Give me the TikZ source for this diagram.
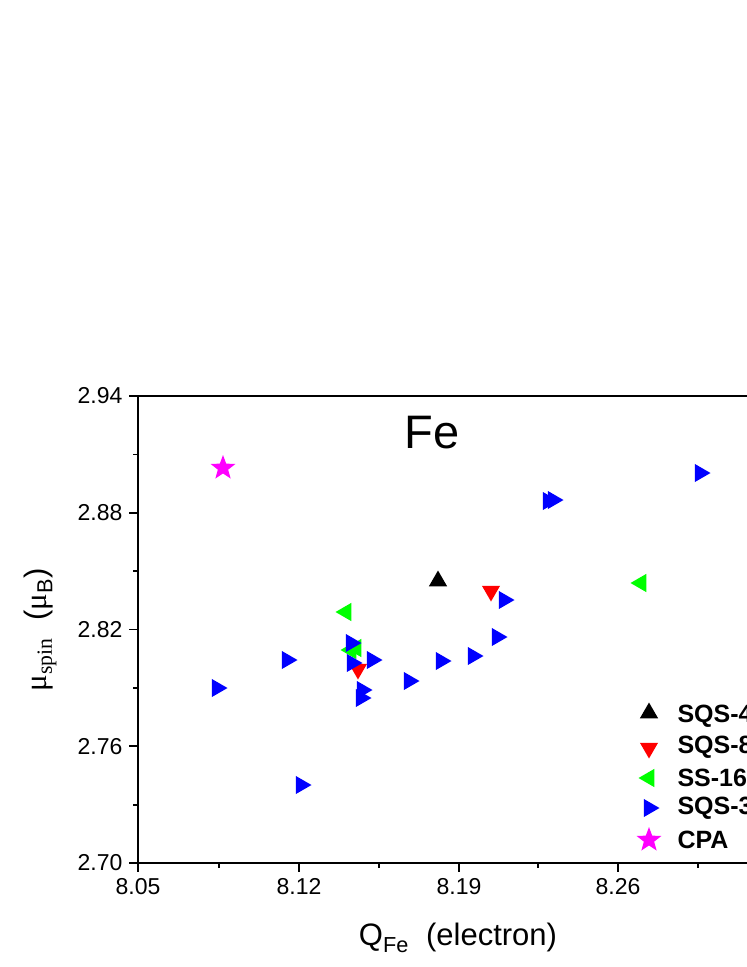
\documentclass[tikz,border=0pt]{standalone}
\usepackage{fontspec}
\setmainfont{Liberation Sans}
\newfontfamily\serifgr{Liberation Serif}
\usetikzlibrary{shapes.geometric}
\definecolor{mag}{RGB}{255,0,255}
\definecolor{grn}{RGB}{0,255,0}
\definecolor{blu}{RGB}{0,0,255}
\definecolor{rd}{RGB}{255,0,0}
\begin{document}
\begin{tikzpicture}[x=1pt,y=-1pt,
  mk/.style={regular polygon,regular polygon sides=3,inner sep=0pt,minimum size=21pt,draw=none},
  up/.style={mk,fill=#1},
  dn/.style={mk,shape border rotate=180,fill=#1},
  lf/.style={mk,shape border rotate=90,fill=#1},
  rt/.style={mk,shape border rotate=-90,fill=#1},
  st/.style={star,star points=5,star point ratio=2.4,inner sep=0pt,minimum size=26pt,fill=mag,draw=none},
  tl/.style={font=\fontsize{23}{23}\selectfont},
  lg/.style={font=\fontsize{25}{25}\selectfont\bfseries,anchor=west},
  ax/.style={line width=2.2pt}]
\useasboundingbox (0,0) rectangle (747,967);
\clip (0,0) rectangle (747,967);
% frame
\draw[ax] (820,396) -- (138,396) -- (138,863) -- (820,863);
% x ticks
\foreach \x/\l in {138/8.05,299/8.12,459/8.19,618/8.26}{
  \draw[line width=1.8pt] (\x,863) -- (\x,872);
  \node[tl,anchor=north] (xl\x) at (\x,875) {\l};}
\foreach \x in {219,379,538,698}{\draw[line width=1.8pt] (\x,863) -- (\x,868);}
% y ticks
\foreach \y/\l in {396/2.94,512.75/2.88,629.5/2.82,746.25/2.76,863/2.70}{
  \draw[line width=1.8pt] (138,\y) -- (129,\y);
  \node[tl,anchor=east] (yl\l) at (126,\y) {\l};}
\foreach \y in {454.4,571.1,687.9,804.6}{\draw[line width=1.8pt] (138,\y) -- (133,\y);}
% labels
\node (xlab) at (458,938) {\fontsize{31}{31}\selectfont Q\textsubscript{Fe}\ \ (electron)};
\node[rotate=90] (ylab) at (40,630) {\fontsize{31}{31}\selectfont{\serifgr μ\textsubscript{spin}}\ \ ({\serifgr μ}\textsubscript{B})};
\node (fe) at (432,433) {\fontsize{47}{47}\selectfont Fe};
% data
\node[st] (c1) at (223,468) {};
\node[up=black] (a1) at (438,581) {};
\node[dn=rd] (b1) at (491,591) {};
\node[dn=rd] (b2) at (358,669) {};
\node[lf=grn] (g1) at (346,612) {};
\node[lf=grn] (g2) at (351,650) {};
\node[lf=grn] (g3) at (356,648) {};
\node[lf=grn] (g4) at (641,583) {};
\foreach \i/\p in {1/{217,688},2/{287,660},3/{351,643},4/{352,663},5/{372,660},6/{362,690},7/{361,698},8/{409,681},9/{441,661},10/{473,656},11/{497,637},12/{504,600},13/{548,501},14/{553,500},15/{700,473},16/{301,785}}{
  \node[rt=blu] (s\i) at (\p) {};}
% legend
\node[up=black] (la) at (649,713) {};
\node[dn=rd] (lb) at (649,748) {};
\node[lf=grn] (lc) at (649,778) {};
\node[rt=blu] (ld) at (649,808) {};
\node[st] (le) at (649,840) {};
\node[lg] (ta) at (674,716) {SQS-4};
\node[lg] (tb) at (674,747) {SQS-8};
\node[lg] (tc) at (674,778) {SS-16};
\node[lg] (td) at (674,808) {SQS-32};
\node[lg] (te) at (674,840) {CPA};
\end{tikzpicture}
\end{document}
